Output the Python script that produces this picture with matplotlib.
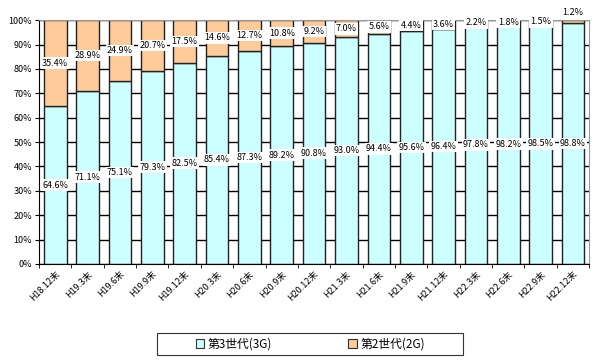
import matplotlib
matplotlib.use("Agg")
import matplotlib.pyplot as plt
import numpy as np
from matplotlib.patches import Patch, Rectangle

plt.rcParams['font.family'] = ['Noto Sans CJK JP', 'DejaVu Sans']

categories = ["H18.12末", "H19.3末", "H19.6末", "H19.9末", "H19.12末", "H20.3末",
              "H20.6末", "H20.9末", "H20.12末", "H21.3末", "H21.6末", "H21.9末",
              "H21.12末", "H22.3末", "H22.6末", "H22.9末", "H22.12末"]
g3 = [64.6, 71.1, 75.1, 79.3, 82.5, 85.4, 87.3, 89.2, 90.8, 93.0, 94.4, 95.6,
      96.4, 97.8, 98.2, 98.5, 98.8]
g2 = [35.4, 28.9, 24.9, 20.7, 17.5, 14.6, 12.7, 10.8, 9.2, 7.0, 5.6, 4.4,
      3.6, 2.2, 1.8, 1.5, 1.2]
yticks = [0, 10, 20, 30, 40, 50, 60, 70, 80, 90, 100]
legend_labels = ["第3世代(3G)", "第2世代(2G)"]

c3 = "#CCFFFF"
c2 = "#FFCC99"

fig = plt.figure(figsize=(6, 3.6), dpi=100)
ax = fig.add_axes([0.065, 0.267, 0.917, 0.677])
x = np.arange(len(categories))
w = 0.7
ax.bar(x, g3, w, color=c3, edgecolor="#222222", linewidth=1.0, zorder=2)
ax.bar(x, g2, w, bottom=g3, color=c2, edgecolor="#222222", linewidth=1.0, zorder=2)

fs = 6.5
bbox = dict(boxstyle="square,pad=0.15", fc="white", ec="none")
for i in range(len(categories)):
    ax.text(x[i], g3[i] / 2, f"{g3[i]:.1f}%", ha="center", va="center",
            fontsize=fs, bbox=bbox, zorder=5)
    if i == len(categories) - 1:
        ax.text(x[i], 103, f"{g2[i]:.1f}%", ha="center", va="center",
                fontsize=fs, zorder=5, clip_on=False)
    else:
        ax.text(x[i], g3[i] + g2[i] / 2, f"{g2[i]:.1f}%", ha="center", va="center",
                fontsize=fs, bbox=bbox, zorder=5)

ax.set_xlim(-0.5, len(categories) - 0.5)
ax.set_ylim(0, 100)
ax.set_yticks(yticks)
ax.set_yticklabels([f"{v}%" for v in yticks], fontsize=6.5)
ax.yaxis.grid(True, color="black", linewidth=1.0, zorder=0)
ax.set_axisbelow(True)
ax.set_xticks(x)
ax.set_xticklabels(categories, rotation=45, ha="right", rotation_mode="anchor", fontsize=6.5)
ax.tick_params(axis="x", length=0, pad=4)
ax.set_xticks(np.arange(-0.5, len(categories), 1), minor=True)
ax.tick_params(axis="x", which="minor", length=3, direction="out")
ax.tick_params(axis="y", length=3, direction="out", pad=2)
for s in ["top", "right"]:
    ax.spines[s].set_color("#999999")
for s in ["left", "bottom"]:
    ax.spines[s].set_color("black")

# legend frame drawn manually (figure pixel coords 157..463 x 333..355)
fig.patches.append(Rectangle((157 / 600, 1 - 355 / 360), 306 / 600, 22 / 360,
                             transform=fig.transFigure, fill=False,
                             ec="#333333", lw=0.8))
handles = [Patch(fc=c3, ec="#333333", lw=0.8), Patch(fc=c2, ec="#333333", lw=0.8)]
leg = fig.legend(handles, legend_labels, loc="center", bbox_to_anchor=(0.517, 0.044),
                 ncol=2, fontsize=8.5, frameon=False,
                 handlelength=0.7, handleheight=0.7, handletextpad=0.3, columnspacing=6.5,
                 borderpad=0.2)

fig.savefig("out.png", dpi=100)
